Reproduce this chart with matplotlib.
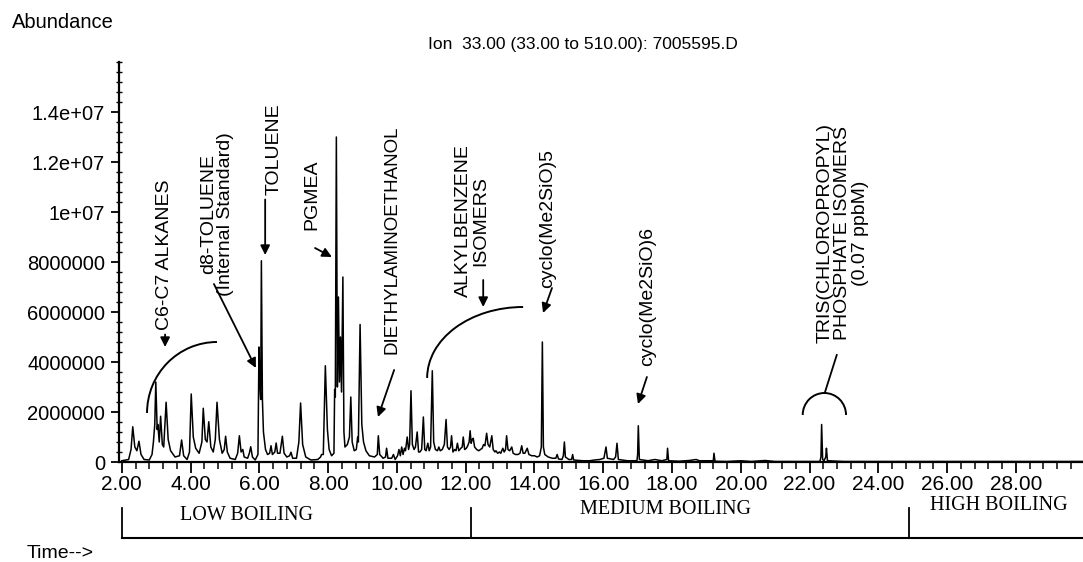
import matplotlib
matplotlib.use("Agg")
import matplotlib.pyplot as plt
from matplotlib.patches import Arc
from matplotlib.ticker import MultipleLocator, FixedLocator, FixedFormatter

plt.rcParams["font.family"] = ["Liberation Sans", "DejaVu Sans"]

# ----------------------------
# Data
# ----------------------------

# retention time (min) and abundance (x 1e6) along the trace
rt_min = [
    2.00, 2.20, 2.27, 2.32, 2.38, 2.44, 2.50, 2.56, 2.65, 2.80,
    2.88, 2.92, 2.96, 2.99, 3.03, 3.05, 3.09, 3.13, 3.18, 3.22,
    3.29, 3.35, 3.42, 3.55, 3.68, 3.74, 3.80, 3.90, 3.97, 4.02,
    4.08, 4.15, 4.25, 4.33, 4.37, 4.43, 4.48, 4.53, 4.59, 4.66,
    4.72, 4.77, 4.84, 4.92, 4.98, 5.02, 5.07, 5.15, 5.30, 5.37,
    5.42, 5.47, 5.52, 5.56, 5.66, 5.71, 5.75, 5.80, 5.88, 5.96,
    5.99, 6.02, 6.04, 6.06, 6.09, 6.12, 6.18, 6.24, 6.30, 6.34,
    6.38, 6.45, 6.49, 6.53, 6.60, 6.67, 6.72, 6.80, 6.88, 6.92,
    6.97, 7.08, 7.15, 7.20, 7.26, 7.35, 7.50, 7.70, 7.78, 7.81,
    7.86, 7.92, 7.98, 8.03, 8.10, 8.17, 8.19, 8.21, 8.24, 8.27,
    8.30, 8.33, 8.36, 8.39, 8.43, 8.46, 8.49, 8.56, 8.62, 8.66,
    8.70, 8.76, 8.82, 8.86, 8.88, 8.93, 8.98, 9.03, 9.10, 9.20,
    9.35, 9.43, 9.46, 9.50, 9.60, 9.67, 9.70, 9.74, 9.85, 9.90,
    9.95, 10.02, 10.06, 10.10, 10.14, 10.18, 10.22, 10.25, 10.30, 10.34,
    10.37, 10.41, 10.45, 10.50, 10.54, 10.59, 10.63, 10.67, 10.72, 10.77,
    10.81, 10.85, 10.90, 10.94, 10.98, 11.03, 11.07, 11.12, 11.18, 11.22,
    11.26, 11.32, 11.38, 11.43, 11.47, 11.52, 11.56, 11.59, 11.63, 11.68,
    11.72, 11.76, 11.80, 11.86, 11.90, 11.93, 11.97, 12.02, 12.06, 12.10,
    12.13, 12.16, 12.19, 12.22, 12.26, 12.32, 12.38, 12.43, 12.48, 12.52,
    12.56, 12.61, 12.65, 12.70, 12.76, 12.80, 12.85, 12.88, 12.93, 12.98,
    13.02, 13.08, 13.12, 13.16, 13.19, 13.23, 13.28, 13.34, 13.38, 13.45,
    13.52, 13.58, 13.63, 13.67, 13.72, 13.79, 13.84, 13.92, 14.00, 14.08,
    14.15, 14.20, 14.23, 14.26, 14.30, 14.40, 14.52, 14.62, 14.66, 14.70,
    14.80, 14.84, 14.87, 14.90, 15.00, 15.08, 15.11, 15.14, 15.40, 15.60,
    15.75, 15.90, 16.02, 16.08, 16.12, 16.30, 16.36, 16.40, 16.44, 16.70,
    16.98, 17.00, 17.02, 17.05, 17.30, 17.50, 17.70, 17.85, 17.87, 17.90,
    18.20, 18.50, 18.70, 18.80, 19.20, 19.22, 19.25, 19.60, 20.00, 20.30,
    20.70, 21.00, 21.50, 22.30, 22.33, 22.35, 22.38, 22.42, 22.47, 22.49,
    22.52, 23.00, 25.00, 28.00, 29.95,
]
abund_e6 = [
    0.05, 0.10, 0.50, 1.41, 0.60, 0.45, 0.83, 0.30, 0.10, 0.08,
    0.30, 0.79, 1.50, 3.20, 1.30, 1.50, 0.80, 1.83, 0.70, 0.60,
    2.39, 0.90, 0.45, 0.20, 0.25, 0.88, 0.25, 0.10, 0.40, 2.72,
    1.00, 0.55, 0.35, 0.80, 2.15, 0.90, 0.80, 1.61, 0.60, 0.40,
    0.90, 2.39, 0.90, 0.35, 0.50, 1.03, 0.40, 0.15, 0.10, 0.35,
    1.05, 0.40, 0.50, 0.20, 0.15, 0.35, 0.61, 0.20, 0.08, 0.30,
    4.60, 3.00, 2.50, 8.05, 2.50, 1.20, 0.50, 0.30, 0.35, 0.65,
    0.30, 0.40, 0.76, 0.35, 0.35, 1.03, 0.35, 0.20, 0.25, 0.39,
    0.15, 0.15, 0.80, 2.36, 0.70, 0.20, 0.08, 0.10, 0.20, 0.30,
    0.30, 3.85, 1.30, 0.50, 0.25, 0.35, 2.90, 2.60, 13.00, 3.00,
    6.60, 3.20, 5.00, 2.80, 7.40, 1.20, 0.60, 0.70, 1.00, 2.60,
    0.80, 0.45, 0.50, 1.00, 0.80, 5.50, 1.50, 0.80, 0.45, 0.25,
    0.20, 0.30, 1.05, 0.30, 0.15, 0.20, 0.55, 0.15, 0.15, 0.30,
    0.10, 0.25, 0.50, 0.25, 0.60, 0.30, 0.55, 0.45, 1.00, 0.50,
    0.70, 2.85, 0.70, 0.50, 0.60, 1.20, 0.40, 0.40, 0.50, 1.80,
    0.50, 0.45, 0.75, 0.45, 0.60, 3.65, 0.80, 0.50, 0.45, 0.60,
    0.45, 0.50, 0.70, 1.70, 0.60, 0.50, 0.60, 1.05, 0.40, 0.50,
    0.45, 0.75, 0.45, 0.55, 0.60, 1.00, 0.50, 0.55, 0.65, 0.80,
    1.25, 0.75, 0.90, 0.95, 0.60, 0.50, 0.45, 0.50, 0.55, 0.70,
    0.65, 1.15, 0.70, 0.60, 1.05, 0.50, 0.40, 0.45, 0.35, 0.40,
    0.35, 0.55, 0.40, 0.50, 1.05, 0.50, 0.45, 0.60, 0.35, 0.30,
    0.30, 0.35, 0.65, 0.35, 0.35, 0.55, 0.30, 0.25, 0.25, 0.20,
    0.25, 0.60, 4.80, 0.60, 0.30, 0.20, 0.15, 0.15, 0.30, 0.12,
    0.10, 0.25, 0.80, 0.20, 0.10, 0.10, 0.30, 0.08, 0.05, 0.05,
    0.08, 0.10, 0.15, 0.60, 0.15, 0.10, 0.20, 0.75, 0.10, 0.05,
    0.05, 0.30, 1.45, 0.10, 0.05, 0.10, 0.05, 0.10, 0.55, 0.05,
    0.03, 0.06, 0.10, 0.05, 0.05, 0.35, 0.03, 0.02, 0.05, 0.02,
    0.06, 0.02, 0.02, 0.02, 0.20, 1.50, 0.10, 0.05, 0.20, 0.55,
    0.05, 0.02, 0.02, 0.02, 0.02,
]

x_ticks = [2, 4, 6, 8, 10, 12, 14, 16, 18, 20, 22, 24, 26, 28]
y_ticks = [0, 2e6, 4e6, 6e6, 8e6, 1e7, 1.2e7, 1.4e7]
y_tick_labels = ["0", "2000000", "4000000", "6000000", "8000000",
                 "1e+07", "1.2e+07", "1.4e+07"]

boiling_names = ["LOW BOILING", "MEDIUM BOILING", "HIGH BOILING"]
boiling_edges = [2.0, 12.15, 24.9]

# ----------------------------
# Figure
# ----------------------------

fig = plt.figure(figsize=(10.83, 5.62), dpi=100)
ax = fig.add_axes([119 / 1083, 100 / 562, 964 / 1083, 400 / 562])

ax.plot(rt_min, [a * 1e6 for a in abund_e6], color="black", lw=1.1)

ax.set_xlim(1.92, 29.95)
ax.set_ylim(0, 1.6e7)

for side in ["top", "right"]:
    ax.spines[side].set_visible(False)
for side in ["left", "bottom"]:
    ax.spines[side].set_linewidth(1.6)

ax.xaxis.set_major_locator(FixedLocator(x_ticks))
ax.xaxis.set_major_formatter(FixedFormatter([f"{t:.2f}" for t in x_ticks]))
ax.xaxis.set_minor_locator(MultipleLocator(0.4))
ax.yaxis.set_major_locator(FixedLocator(y_ticks))
ax.yaxis.set_major_formatter(FixedFormatter(y_tick_labels))
ax.yaxis.set_minor_locator(MultipleLocator(4e5))

ax.tick_params(axis="x", which="major", direction="out", length=8, width=1.3,
               labelsize=15, pad=1)
ax.tick_params(axis="x", which="minor", direction="out", length=5, width=1.1)
ax.tick_params(axis="y", which="major", direction="out", length=6, width=1.3,
               labelsize=14.5, pad=4)
ax.tick_params(axis="y", which="minor", direction="inout", length=5, width=1.0)

# ----------------------------
# Texts
# ----------------------------

fig.text(12 / 1083, 1 - 22 / 562, "Abundance", ha="left", va="center", fontsize=14.5)
fig.text(583 / 1083, 1 - 45 / 562, "Ion  33.00 (33.00 to 510.00): 7005595.D",
         ha="center", va="center", fontsize=12.5)
fig.text(27 / 1083, 1 - 553 / 562, "Time-->", ha="left", va="center", fontsize=14)


def label(t, h, text, size=14):
    ax.text(t, h * 1e6, text, rotation=90, ha="center", va="center",
            multialignment="center", fontsize=size, linespacing=1.05)


def arrow(t0, h0, t1, h1):
    ax.annotate("", xy=(t1, h1 * 1e6), xytext=(t0, h0 * 1e6),
                arrowprops=dict(arrowstyle="-|>", color="black", lw=1.3,
                                mutation_scale=14, shrinkA=0, shrinkB=0))


label(3.23, 8.3, "C6-C7 ALKANES")
arrow(3.26, 5.1, 3.26, 4.6)
ax.add_patch(Arc((4.77, 1.96e6), 4.07, 5.68e6, theta1=90, theta2=180, lw=1.4))

label(4.77, 9.9, "d8-TOLUENE\n(Internal Standard)")
arrow(4.68, 7.12, 5.90, 3.76)

label(6.43, 12.5, "TOLUENE")
arrow(6.17, 10.5, 6.17, 8.28)

label(7.53, 10.7, "PGMEA")
arrow(7.62, 8.56, 8.11, 8.2)

label(9.86, 8.9, "DIETHYLAMINOETHANOL", size=13.5)
arrow(9.92, 3.68, 9.45, 1.8)

label(12.19, 9.64, "ALKYLBENZENE\nISOMERS")
arrow(12.51, 7.28, 12.51, 6.2)
ax.add_patch(Arc((13.67, 3.36e6), 5.58, 5.68e6, theta1=90, theta2=180, lw=1.4))

label(14.39, 9.76, "cyclo(Me2SiO)5")
arrow(14.51, 6.96, 14.25, 5.96)

label(17.3, 6.64, "cyclo(Me2SiO)6")
arrow(17.27, 3.4, 17.01, 2.32)

label(22.97, 9.16, "TRIS(CHLOROPROPYL)\nPHOSPHATE ISOMERS\n(0.07 ppbM)")
ax.plot([22.79, 22.44], [4.28e6, 2.76e6], color="black", lw=1.3)
ax.add_patch(Arc((22.43, 1.88e6), 1.26, 1.76e6, theta1=0, theta2=180, lw=1.4))

# ----------------------------
# Boiling range bracket
# ----------------------------

trans = ax.get_xaxis_transform()
ax.plot([boiling_edges[0], 29.95], [-0.19, -0.19], color="black", lw=1.5,
        transform=trans, clip_on=False)
for edge in boiling_edges:
    ax.plot([edge, edge], [-0.19, -0.115], color="black", lw=1.3,
            transform=trans, clip_on=False)

for name, tx, ty in zip(boiling_names, [5.62, 17.8, 27.5], [-0.135, -0.12, -0.11]):
    ax.text(tx, ty, name, transform=trans, ha="center", va="center",
            fontsize=14.5, family=["Liberation Serif", "DejaVu Serif"])

fig.savefig("out.png", dpi=100)
